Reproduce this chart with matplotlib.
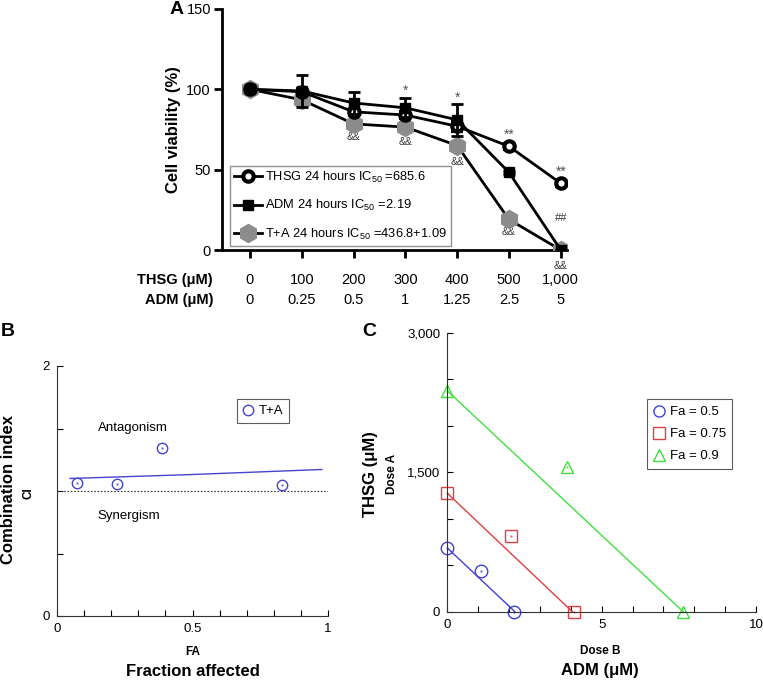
import matplotlib
matplotlib.use("Agg")
import matplotlib.pyplot as plt
from matplotlib.lines import Line2D
import numpy as np

plt.rcParams['font.family'] = ['Liberation Sans', 'DejaVu Sans']
plt.rcParams['mathtext.default'] = 'regular'

# ---------------- Panel A data ----------------
thsg_doses = ["0", "100", "200", "300", "400", "500", "1,000"]
adm_doses = ["0", "0.25", "0.5", "1", "1.25", "2.5", "5"]
thsg_vals = [100, 98.5, 86, 84, 77, 64.5, 41.5]
thsg_err = [0, 2, 2, 2, 3, 1.5, 1.5]
adm_vals = [100, 99, 91.5, 88.5, 81, 48.3, 0]
adm_err = [0, 10, 7, 6, 10, 1, 0]
ta_vals = [100, 93.5, 78.5, 76.5, 65, 19, 0]
ta_err = [0, 3, 2, 2, 3, 3, 0]
star_labels = ["", "", "", "*", "*", "**", "**"]
star_y = [0, 0, 0, 99, 95, 72, 48.5]
hash_labels = ["", "", "", "", "", "", "##"]
hash_y = [0, 0, 0, 0, 0, 0, 20]
amp_labels = ["", "", "&&", "&&", "&&", "&&", "&&"]
amp_y = [0, 0, 70.5, 67, 55, 11, -10]
leg_a = ["THSG 24 hours IC$_{50}$ =685.6",
         "ADM 24 hours IC$_{50}$ =2.19",
         "T+A 24 hours IC$_{50}$ =436.8+1.09"]

# ---------------- Panel B data ----------------
fa_pts = [0.075, 0.22, 0.389, 0.829]
ci_pts = [1.068, 1.057, 1.347, 1.049]
fa_line = [0.048, 0.5, 0.977]
ci_line = [1.10, 1.132, 1.172]

# ---------------- Panel C data ----------------
fa_levels = ["Fa = 0.5", "Fa = 0.75", "Fa = 0.9"]
doseB = [[0, 1.09, 2.16], [0, 2.05, 4.1], [0, 3.87, 7.64]]
doseA = [[685.6, 436.8, 0], [1274, 815, 0], [2375, 1554, 0]]
lineB = [[0, 2.19], [0, 4.05], [0, 7.64]]
lineA = [[685.6, 0], [1274, 0], [2375, 0]]
colors_c = ["#4040d8", "#e04040", "#40e040"]
markers_c = ["o", "s", "^"]

W, H = 763, 680
fig = plt.figure(figsize=(W / 100, H / 100), dpi=100)

def ax_rect(l, t, r, b):
    return [l / W, 1 - b / H, (r - l) / W, (b - t) / H]

# ================= Panel A =================
axA = fig.add_axes(ax_rect(222, 9, 567, 250))
x = np.arange(len(thsg_doses))
grey = "#8c8c8c"
axA.errorbar(x, ta_vals, yerr=ta_err, color='black', lw=2, marker='h', ms=13,
             mfc=grey, mec=grey, capsize=4, capthick=2, elinewidth=2, zorder=3)
axA.errorbar(x, thsg_vals, yerr=thsg_err, color='black', lw=2, marker='o', ms=7.5,
             mfc='white', mec='black', mew=3, capsize=4, capthick=2, elinewidth=2, zorder=4)
axA.errorbar(x, adm_vals, yerr=adm_err, color='black', lw=2, marker='s', ms=7,
             mfc='black', mec='black', capsize=4, capthick=2, elinewidth=2, zorder=5)
for i in range(len(x)):
    if star_labels[i]:
        axA.text(x[i], star_y[i], star_labels[i], ha='center', va='center', fontsize=10, color='#555555')
    if hash_labels[i]:
        axA.text(x[i], hash_y[i], hash_labels[i], ha='center', va='center', fontsize=8, color='#333333')
    if amp_labels[i]:
        axA.text(x[i], amp_y[i], amp_labels[i], ha='center', va='center', fontsize=7.5,
                 color='#333333', clip_on=False)
axA.set_xlim(-0.54, 6.12)
axA.set_ylim(0, 150)
axA.set_yticks([0, 50, 100, 150])
axA.set_xticks(x)
axA.set_xticklabels([""] * len(x))
for s in ['top', 'right']:
    axA.spines[s].set_visible(False)
for s in ['left', 'bottom']:
    axA.spines[s].set_linewidth(2)
axA.tick_params(axis='both', direction='out', width=2, length=6, labelsize=10.5, pad=2)
axA.set_ylabel("Cell viability (%)", fontsize=12, fontweight='bold', labelpad=4)

trans = axA.get_xaxis_transform()
row1_y = (250 - 280) / 241
row2_y = (250 - 300) / 241
axA.text(-0.026, row1_y, "THSG (μM)", transform=axA.transAxes, ha='right', va='center',
         fontsize=10.5, fontweight='bold')
axA.text(-0.026, row2_y, "ADM (μM)", transform=axA.transAxes, ha='right', va='center',
         fontsize=10.5, fontweight='bold')
for i in range(len(x)):
    axA.text(x[i], row1_y, thsg_doses[i], transform=trans, ha='center', va='center', fontsize=10.5)
    axA.text(x[i], row2_y, adm_doses[i], transform=trans, ha='center', va='center', fontsize=10.5)

hA = [Line2D([], [], color='black', lw=2, marker='o', ms=7.5, mfc='white', mec='black', mew=3),
      Line2D([], [], color='black', lw=2, marker='s', ms=7, mfc='black', mec='black'),
      Line2D([], [], color='black', lw=2, marker='h', ms=13, mfc=grey, mec=grey)]
legA = axA.legend(hA, leg_a, loc='lower left', bbox_to_anchor=(0.023, 0.017), borderaxespad=0,
                  fontsize=9.3, frameon=True, fancybox=False, edgecolor='#777777',
                  handlelength=2.15, labelspacing=1.05, borderpad=0.3, handletextpad=0.3)
legA.get_frame().set_linewidth(1)
fig.text(177 / W, 1 - 10 / H, "A", fontsize=14, fontweight='bold', ha='center', va='center')

# ================= Panel B =================
blue = "#4444d0"
axB = fig.add_axes(ax_rect(57, 366, 328, 616))
axB.plot(fa_line, ci_line, color=blue, lw=1)
axB.plot(fa_pts, ci_pts, ls='none', marker='o', ms=7.5, mfc='none', mec=blue, mew=1)
axB.plot(fa_pts, ci_pts, ls='none', marker='.', ms=1, color=blue)
axB.axhline(1.0, color='#333333', lw=0.8, ls=(0, (1.5, 1.5)))
axB.set_xlim(0, 1)
axB.set_ylim(0, 2)
axB.set_xticks(np.round(np.arange(0, 1.01, 0.1), 1))
axB.set_xticklabels(["0", "", "", "", "", "0.5", "", "", "", "", "1"])
axB.set_yticks([0, 0.5, 1, 1.5, 2])
axB.set_yticklabels(["0", "", "", "", "2"])
for s in ['top', 'right']:
    axB.spines[s].set_visible(False)
for s in ['left', 'bottom']:
    axB.spines[s].set_linewidth(0.8)
    axB.spines[s].set_color('#333333')
axB.tick_params(axis='both', direction='in', length=4, width=0.8, labelsize=9.5, pad=5)
axB.text(0.15, 1.5, "Antagonism", fontsize=9.5, ha='left', va='center')
axB.text(0.15, 0.8, "Synergism", fontsize=9.5, ha='left', va='center')
hB = [Line2D([], [], ls='none', marker='o', ms=7.5, mfc='none', mec=blue, mew=1)]
legB = axB.legend(hB, ["T+A"], loc='upper left', bbox_to_anchor=((236.7 - 57) / 271, (616 - 399.3) / 250),
                  borderaxespad=0, fontsize=9.5, frameon=True, fancybox=False, edgecolor='#333333',
                  handlelength=0.8, handletextpad=0.4, borderpad=0.45)
legB.get_frame().set_linewidth(0.8)
fig.text(8.5 / W, 1 - 490 / H, "Combination index", rotation=90, fontsize=12, fontweight='bold',
         ha='center', va='center')
fig.text(29 / W, 1 - 493 / H, "CI", rotation=90, fontsize=8.5, fontweight='bold', ha='center', va='center')
fig.text(193 / W, 1 - 652 / H, "FA", fontsize=8.5, fontweight='bold', ha='center', va='center')
fig.text(193 / W, 1 - 671 / H, "Fraction affected", fontsize=12, fontweight='bold', ha='center', va='center')
fig.text(8 / W, 1 - 332 / H, "B", fontsize=14, fontweight='bold', ha='center', va='center')

# ================= Panel C =================
axC = fig.add_axes(ax_rect(447.3, 332.7, 756, 611.7))
for k in range(3):
    axC.plot(lineB[k], lineA[k], color=colors_c[k], lw=1)
    axC.plot(doseB[k], doseA[k], ls='none', marker=markers_c[k], ms=9, mfc='none',
             mec=colors_c[k], mew=1, clip_on=False)
    axC.plot(doseB[k], doseA[k], ls='none', marker='.', ms=1, color=colors_c[k], clip_on=False)
axC.set_xlim(0, 10)
axC.set_ylim(0, 3000)
axC.set_xticks(np.arange(0, 11, 1))
axC.set_xticklabels(["0", "", "", "", "", "5", "", "", "", "", "10"])
axC.set_yticks(np.arange(0, 3001, 500))
axC.set_yticklabels(["0", "", "", "1,500", "", "", "3,000"])
for s in ['top', 'right']:
    axC.spines[s].set_visible(False)
for s in ['left', 'bottom']:
    axC.spines[s].set_linewidth(0.8)
    axC.spines[s].set_color('#333333')
axC.tick_params(axis='both', direction='in', length=4, width=0.8, labelsize=9.5, pad=5)
hC = [Line2D([], [], ls='none', marker=markers_c[k], ms=8, mfc='none', mec=colors_c[k], mew=1)
      for k in range(3)]
legC = axC.legend(hC, fa_levels, loc='upper left',
                  bbox_to_anchor=((647.3 - 447.3) / 308.7, (611.7 - 399.3) / 279),
                  borderaxespad=0, fontsize=9.5, frameon=True, fancybox=False, edgecolor='#333333',
                  handlelength=0.8, handletextpad=0.4, borderpad=0.5, labelspacing=0.75)
legC.get_frame().set_linewidth(0.8)
fig.text(370 / W, 1 - 474 / H, "THSG (μM)", rotation=90, fontsize=12, fontweight='bold',
         ha='center', va='center')
fig.text(392 / W, 1 - 474 / H, "Dose A", rotation=90, fontsize=8.5, fontweight='bold',
         ha='center', va='center')
fig.text(600 / W, 1 - 651 / H, "Dose B", fontsize=8.5, fontweight='bold', ha='center', va='center')
fig.text(600 / W, 1 - 671 / H, "ADM (μM)", fontsize=12, fontweight='bold', ha='center', va='center')
fig.text(369 / W, 1 - 332 / H, "C", fontsize=14, fontweight='bold', ha='center', va='center')

fig.savefig("out.png", dpi=100)
